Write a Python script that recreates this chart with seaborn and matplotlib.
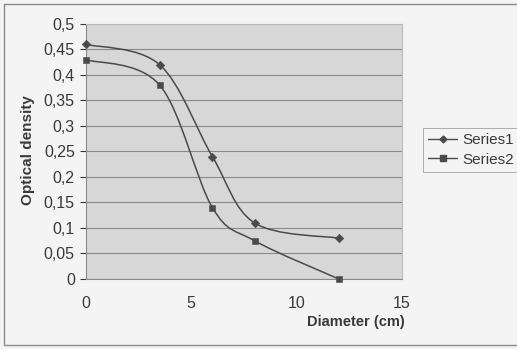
import numpy as np
import matplotlib
matplotlib.use("Agg")
import matplotlib.pyplot as plt
from matplotlib.path import Path
from matplotlib.patches import PathPatch, Rectangle
from matplotlib.ticker import FuncFormatter, MultipleLocator
from matplotlib.lines import Line2D
import seaborn as sns

# Measured optical density against diameter
diameter_s1 = [0, 3.5, 6, 8, 12]
density_s1 = [0.46, 0.42, 0.24, 0.11, 0.08]
diameter_s2 = [0, 3.5, 6, 8, 12]
density_s2 = [0.43, 0.38, 0.14, 0.075, 0.0]
series_names = ["Series1", "Series2"]
x_ticks = [0, 5, 10, 15]

sns.set_theme(style="white")
plt.rcParams["font.family"] = ["Liberation Sans", "DejaVu Sans"]

fig = plt.figure(figsize=(5.17, 3.49), dpi=100, facecolor="#f4f4f4")
ax = fig.add_axes([0.1663, 0.2006, 0.6112, 0.7307])
ax.set_facecolor("#d7d7d7")

line_col = "#4a4a4a"
text_col = "#3a3a3a"


def smooth_path(xs, ys):
    """Cubic Bezier path through the points, spreadsheet-style smoothing."""
    pts = np.column_stack([xs, ys]).astype(float)
    verts = [pts[0]]
    codes = [Path.MOVETO]
    n = len(pts)
    for i in range(n - 1):
        p0 = pts[i - 1] if i > 0 else pts[i]
        p1 = pts[i]
        p2 = pts[i + 1]
        p3 = pts[i + 2] if i + 2 < n else pts[i + 1]
        c1 = p1 + (p2 - p0) / 6.0
        c2 = p2 - (p3 - p1) / 6.0
        verts += [c1, c2, p2]
        codes += [Path.CURVE4] * 3
    return Path(verts, codes)


for xs, ys, mk, ms in [(diameter_s1, density_s1, "D", 4),
                       (diameter_s2, density_s2, "s", 4.5)]:
    ax.add_patch(PathPatch(smooth_path(xs, ys), facecolor="none",
                           edgecolor=line_col, lw=1.1, zorder=3))
    sns.scatterplot(x=xs, y=ys, marker=mk, s=ms ** 2 * 1.2, color=line_col,
                    edgecolor=line_col, linewidth=0.4, ax=ax, zorder=4,
                    legend=False, clip_on=False)

ax.set_xlim(0, 15)
ax.set_ylim(0, 0.5)
ax.set_xticks(x_ticks)
ax.yaxis.set_major_locator(MultipleLocator(0.05))
fmt = FuncFormatter(lambda v, p: ("%g" % round(v, 3)).replace(".", ","))
ax.yaxis.set_major_formatter(fmt)
ax.xaxis.set_major_formatter(fmt)
ax.grid(axis="y", color="#8a8a8a", lw=0.8)
ax.set_axisbelow(True)
for s in ["left", "bottom"]:
    ax.spines[s].set_color("#8a8a8a")
    ax.spines[s].set_linewidth(0.8)
for s in ["top", "right"]:
    ax.spines[s].set_color("#bcbcbc")
    ax.spines[s].set_linewidth(0.8)

ax.tick_params(axis="y", labelsize=11.5, colors=text_col, length=4,
               width=0.8, direction="out", left=True, pad=4)
ax.tick_params(axis="x", labelsize=11.5, colors=text_col, length=0,
               pad=12)
for t in ax.get_yticklabels() + ax.get_xticklabels():
    t.set_color(text_col)

ax.set_ylabel("Optical density", fontsize=11, fontweight="bold",
              color=text_col)
ax.yaxis.set_label_coords(-0.16, 0.506)
fig.text(405 / 517, 1 - 322 / 349, "Diameter (cm)", ha="right",
         va="center", fontsize=10.5, fontweight="bold", color=text_col)

handles = [
    Line2D([], [], color=line_col, lw=1.0, marker="D", ms=3.5),
    Line2D([], [], color=line_col, lw=1.0, marker="s", ms=4),
]
leg = fig.legend(handles, series_names, loc="upper left",
                 bbox_to_anchor=(423 / 517, 1 - 128 / 349),
                 frameon=True, fontsize=11, handlelength=1.9,
                 handletextpad=0.3, borderpad=0.35, labelspacing=0.35,
                 fancybox=False, borderaxespad=0)
leg.get_frame().set_edgecolor("#9a9a9a")
leg.get_frame().set_linewidth(0.7)
leg.get_frame().set_facecolor("#f4f4f4")
for t in leg.get_texts():
    t.set_color(text_col)

# outer chart frame
fig.patches.append(Rectangle((4 / 517, 4 / 349), 1.2, 1 - 8 / 349,
                             transform=fig.transFigure, fill=False,
                             edgecolor="#8a8a8a", lw=1.0))

fig.savefig("out.png", dpi=100, facecolor=fig.get_facecolor())
